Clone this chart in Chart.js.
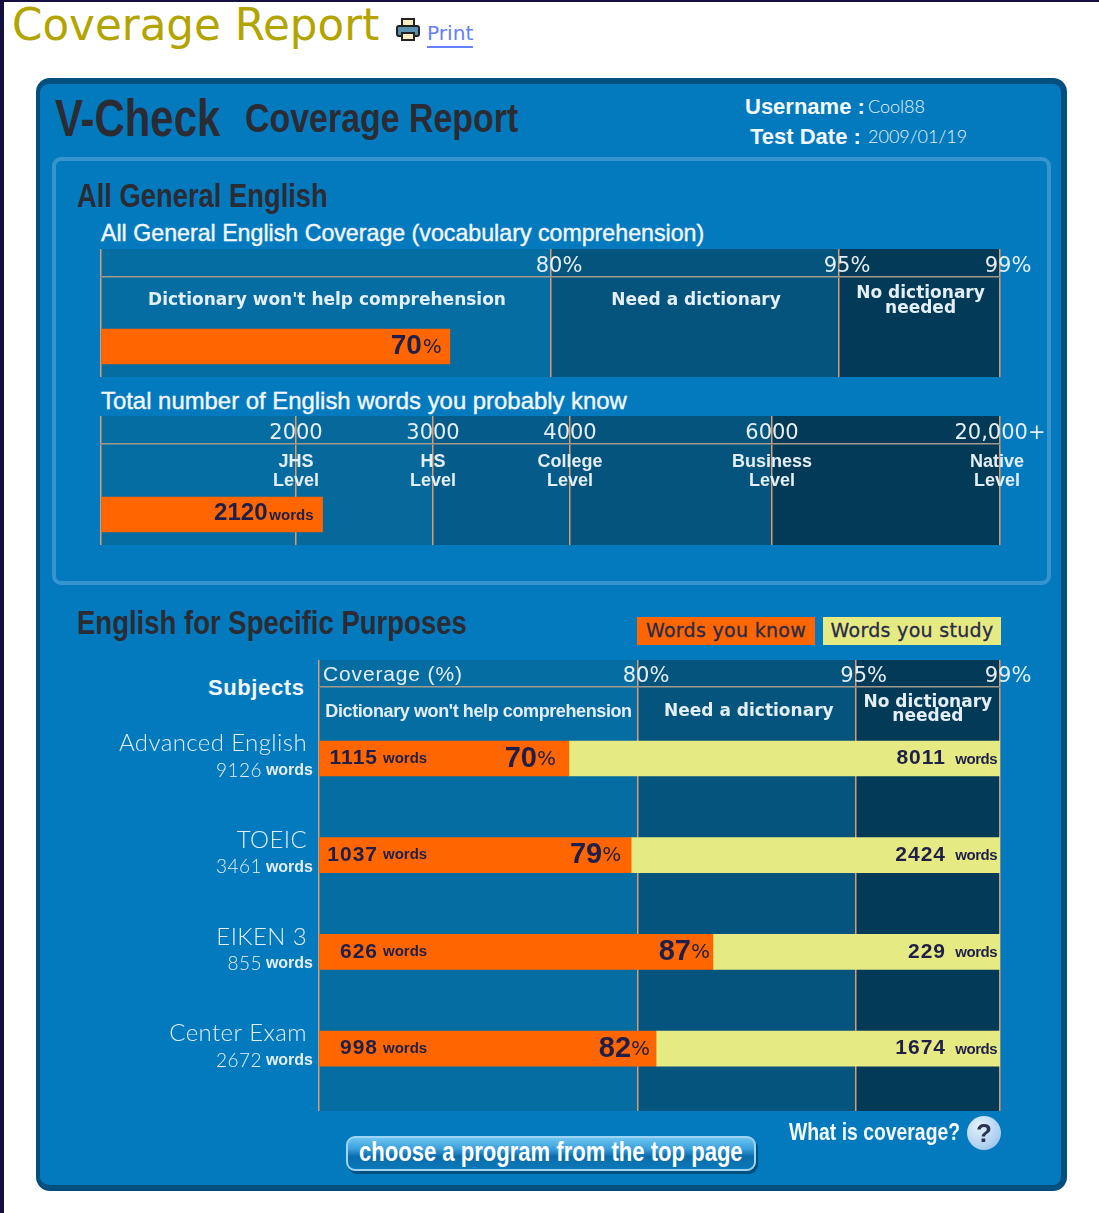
<!DOCTYPE html>
<html>
<head>
<meta charset="utf-8">
<title>Coverage Report</title>
<script src="https://cdn.jsdelivr.net/npm/chart.js@4"></script>
<style>
  html, body { margin: 0; padding: 0; background: #fff; }
  body { position: relative; width: 1099px; height: 1213px; overflow: hidden; font-family: "DejaVu Sans", sans-serif; }
  .abs { position: absolute; white-space: nowrap; }
  .narrow { font-family: "Liberation Sans", sans-serif; font-weight: 700; color: #2b2c33; transform-origin: left center; }
  .white { color: #f2f7fb; font-family: "Liberation Sans", sans-serif; font-weight: 700; }
  .title { font-weight: 400; -webkit-text-stroke: .4px #f2f7fb; }
  .thin { color: #eaf3fa; font-family: "Lato", sans-serif; font-weight: 300; }
  canvas { position: absolute; }
  #panel { position: absolute; left: 36px; top: 78px; width: 1031px; height: 1113px; box-sizing: border-box;
    background: #047abe; border: solid #03507e; border-width: 6px 6px 6px 4px; border-radius: 14px; }
  #inner { position: absolute; left: 52px; top: 157px; width: 999px; height: 428px; box-sizing: border-box;
    border: 4px solid #3695cf; border-radius: 9px; }
  .key { position: absolute; top: 617px; height: 28px; line-height: 27px; width: 178px; text-align: center;
    font-family: "DejaVu Sans", sans-serif; font-size: 19px; letter-spacing: .3px; color: #2a2b4a; -webkit-text-stroke: .3px #2a2b4a; }
  #btn { position: absolute; left: 346px; top: 1136px; width: 410px; height: 35px; box-sizing: border-box;
    border: 2px solid #9fd4f2; border-radius: 9px; background: linear-gradient(#6cc4f0 0%, #3aa0dc 35%, #0a6dab 60%, #0b78b8 100%);
    box-shadow: 2px 3px 0 #03507e; }
  #help { position: absolute; left: 967px; top: 1116px; width: 34px; height: 34px; border-radius: 50%;
    background: radial-gradient(circle at 35% 30%, #e4f1fc, #a9cdf0 70%, #7aa9db); text-align: center; line-height: 34px;
    font-family: "Liberation Sans", sans-serif; font-weight: 700; font-size: 26px; color: #2b3350; }
</style>
</head>
<body>
<div class="abs" style="left:0;top:0;width:4px;height:1213px;background:#15103f"></div>
<div class="abs" style="left:0;top:0;width:1099px;height:2px;background:#15103f"></div>

<div class="abs" style="left:12px;top:0;font-size:43.6px;color:#b3a400">Coverage Report</div>
<svg class="abs" style="left:396px;top:18px" width="24" height="24" viewBox="0 0 24 24">
  <rect x="6" y="1" width="12" height="8" fill="#f7eec4" stroke="#222" stroke-width="2"/>
  <rect x="1" y="8" width="22" height="10" rx="2" fill="#5b8fb0" stroke="#222" stroke-width="2"/>
  <rect x="6" y="15" width="12" height="7" fill="#f7eec4" stroke="#222" stroke-width="2"/>
</svg>
<div class="abs" style="left:427px;top:21px;font-size:20.2px;color:#6680ff;border-bottom:2px solid #6680ff;height:25px">Print</div>

<div id="panel"></div>
<div id="inner"></div>

<div class="abs narrow" data-w="165" style="left:55px;top:89px;font-size:51px">V-Check</div>
<div class="abs narrow" data-w="273" style="left:245px;top:96px;font-size:40px">Coverage Report</div>
<div class="abs white" style="left:745px;top:94px;font-size:22px">Username :</div>
<div class="abs thin" style="left:868px;top:95px;font-size:18px">Cool88</div>
<div class="abs white" style="left:750px;top:124px;font-size:22px">Test Date :</div>
<div class="abs thin" style="left:868px;top:125px;font-size:18px">2009/01/19</div>

<div class="abs narrow" data-w="251" style="left:77px;top:176px;font-size:34px">All General English</div>
<div class="abs white title" style="left:101px;top:220px;font-size:23.2px">All General English Coverage (vocabulary comprehension)</div>
<div class="abs white title" style="left:101px;top:387px;font-size:23.9px">Total number of English words you probably know</div>

<div class="abs narrow" data-w="390" style="left:77px;top:603px;font-size:34px">English for Specific Purposes</div>
<div class="key" style="left:637px;background:#ff6600">Words you know</div>
<div class="key" style="left:823px;background:#e6ea82">Words you study</div>
<div class="abs white" style="left:208px;top:675px;font-size:22px;letter-spacing:.6px">Subjects</div>

<canvas id="general"></canvas>
<canvas id="words"></canvas>
<canvas id="purposes"></canvas>

<div class="abs narrow" data-w="171" style="left:789px;top:1118px;font-size:24px;color:#f4f9fc">What is coverage?</div>
<div id="help">?</div>
<div id="btn"></div>
<div class="abs narrow" data-w="384" style="left:359px;top:1137px;font-size:27px;color:#fff">choose a program from the top page</div>

<script>
// Data
const generalTicks = [0, 80, 95, 99];
const generalTickLabels = ["", "80%", "95%", "99%"];
const generalCoverage = [70];

const wordTicks = [0, 2000, 3000, 4000, 6000, 20000];
const wordTickLabels = ["", "2000", "3000", "4000", "6000", "20,000+"];
const wordLevels = ["", "JHS", "HS", "College", "Business", "Native"];
const wordsKnown = [2120];

const subjects = ["Advanced English", "TOEIC", "EIKEN 3", "Center Exam"];
const subjectTotals = [9126, 3461, 855, 2672];
const subjectKnown = [1115, 1037, 626, 998];
const subjectStudy = [8011, 2424, 229, 1674];
const subjectCoverage = [70, 79, 87, 82];

const zoneNames = [["Dictionary won't help comprehension"], ["Need a dictionary"], ["No dictionary", "needed"]];

// Colours
const ORANGE = "#ff6600";
const YELLOW = "#e6ea82";
const BAND_LOW = "#066da3";
const BAND_MID = "#04547e";
const BAND_DARK = "#033a57";
const LINE = "#d89c70";
const RULE = "#a3998a";
const INK = "#1f1f4a";
const PALE = "#e4eef5";

// Squeeze the condensed headings to the width they have in the report
document.querySelectorAll("[data-w]").forEach(el => {
  el.style.transform = "scaleX(" + (el.dataset.w / el.offsetWidth) + ")";
});

// The report's axes are not linear: each value sits at a set share of the width
class AnchoredScale extends Chart.LinearScale {
  static id = "anchored";
  buildTicks() {
    return this.options.tickValues.map(v => ({ value: v }));
  }
  getPixelForValue(value) {
    const a = this.options.anchors;
    for (let i = 1; i < a.length; i++) {
      if (value <= a[i][0]) {
        const t = (value - a[i - 1][0]) / (a[i][0] - a[i - 1][0]);
        return this.getPixelForDecimal(a[i - 1][1] + t * (a[i][1] - a[i - 1][1]));
      }
    }
    return this.getPixelForDecimal(1);
  }
}
Chart.register(AnchoredScale);

function put(ctx, text, x, y, font, color, align, spacing) {
  ctx.font = font;
  ctx.fillStyle = color;
  ctx.textAlign = align || "center";
  ctx.textBaseline = "middle";
  ctx.letterSpacing = spacing || "0px";
  ctx.fillText(text, x, y);
  ctx.letterSpacing = "0px";
}

// Band fills behind the grid
const bandsPlugin = {
  id: "bands",
  beforeDraw(chart, args, opts) {
    const { ctx } = chart;
    const x = chart.scales.x;
    const top = x.top;
    const bottom = chart.chartArea.bottom;
    ctx.save();
    opts.stops.forEach((from, i) => {
      if (i === opts.stops.length - 1) return;
      const l = x.getPixelForValue(from);
      const r = x.getPixelForValue(opts.stops[i + 1]);
      ctx.fillStyle = opts.colors[i];
      ctx.fillRect(l, top, r - l, bottom - top);
    });
    ctx.restore();
  }
};

// Zone names, levels and the text on the bars
const textPlugin = {
  id: "barText",
  afterDatasetsDraw(chart, args, opts) {
    if (opts.draw) opts.draw(chart, chart.ctx);
  }
};

function axisOptions(ticks, labels, anchors, labelOffset, headerHeight, tickPadding) {
  return {
    type: "anchored",
    position: "top",
    min: ticks[0],
    max: ticks[ticks.length - 1],
    tickValues: ticks,
    anchors,
    afterFit(scale) { scale.height = headerHeight; },
    border: { display: true, color: RULE, width: 1.5 },
    grid: { color: LINE, lineWidth: 1.5, tickColor: LINE, tickLength: headerHeight },
    ticks: {
      autoSkip: false,
      maxRotation: 0,
      minRotation: 0,
      padding: tickPadding,
      labelOffset,
      color: PALE,
      font: { family: "DejaVu Sans", size: 21 },
      callback: (v, i) => labels[i]
    }
  };
}

function baseOptions(xAxis, yMin, yMax, padding, bands, draw) {
  return {
    indexAxis: "y",
    responsive: false,
    animation: false,
    layout: { padding },
    scales: {
      x: xAxis,
      y: { type: "linear", reverse: true, offset: false, min: yMin, max: yMax, display: false, grid: { display: false } }
    },
    plugins: {
      legend: { display: false },
      tooltip: { enabled: false },
      bands,
      barText: { draw }
    }
  };
}

function placeCanvas(id, left, top, width, height) {
  const c = document.getElementById(id);
  c.width = width;
  c.height = height;
  c.style.left = left + "px";
  c.style.top = top + "px";
  c.style.width = width + "px";
  c.style.height = height + "px";
  return c;
}

function drawZones(ctx, x, stops, y, font, lineGap, spacing) {
  zoneNames.forEach((lines, i) => {
    const cx = (x.getPixelForValue(stops[i]) + x.getPixelForValue(stops[i + 1])) / 2 + 1;
    lines.forEach((line, j) => {
      const ly = lines.length > 1 ? y - lineGap / 2 + j * lineGap : y;
      put(ctx, line, cx, ly, font, PALE, "center", spacing);
    });
  });
}

// All General English coverage
new Chart(placeCanvas("general", 60, 240, 990, 145), {
  type: "bar",
  data: {
    datasets: [{
      data: generalCoverage.map((v, i) => ({ x: [0, v], y: i })),
      backgroundColor: ORANGE,
      barThickness: 35,
      grouped: false
    }]
  },
  options: baseOptions(
    axisOptions(generalTicks, generalTickLabels, [[0, 0], [70, 0.388], [80, 0.5006], [95, 0.821], [99, 1]], 8, 28, -30),
    -1, 0.4388,
    { left: 41, right: 50, top: 9, bottom: 8 },
    { stops: [0, 80, 95, 99], colors: [BAND_LOW, BAND_MID, BAND_DARK] },
    (chart, ctx) => {
      const x = chart.scales.x, y = chart.scales.y;
      drawZones(ctx, x, [0, 80, 95, 99], chart.chartArea.top + 24, "bold 17px 'DejaVu Sans'", 15, "0px");
      const end = x.getPixelForValue(generalCoverage[0]);
      const cy = y.getPixelForValue(0);
      put(ctx, "%", end - 8, cy + 1, "20px 'DejaVu Sans'", INK, "right");
      put(ctx, generalCoverage[0], end - 28, cy, "bold 28px 'Liberation Sans'", INK, "right");
    }
  ),
  plugins: [bandsPlugin, textPlugin]
});

// Total number of English words
new Chart(placeCanvas("words", 60, 408, 990, 145), {
  type: "bar",
  data: {
    datasets: [{
      data: wordsKnown.map((v, i) => ({ x: [0, v], y: i })),
      backgroundColor: ORANGE,
      barThickness: 35,
      grouped: false
    }]
  },
  options: baseOptions(
    axisOptions(wordTicks, wordTickLabels, [[0, 0], [2000, 0.2169], [2120, 0.2464], [3000, 0.3693], [4000, 0.5217], [6000, 0.7464], [20000, 1]], 0, 28, -30),
    -1, 0.4326,
    { left: 41, right: 50, top: 8, bottom: 8 },
    { stops: [0, 2000, 3000, 4000, 6000, 20000], colors: [BAND_LOW, "#06689b", "#055c8a", BAND_MID, BAND_DARK] },
    (chart, ctx) => {
      const x = chart.scales.x, y = chart.scales.y;
      wordLevels.forEach((name, i) => {
        if (!name) return;
        const px = x.getPixelForValue(wordTicks[i]) - (i === 5 ? 3 : 0);
        put(ctx, name, px, chart.chartArea.top + 18, "bold 18px 'Liberation Sans'", PALE);
        put(ctx, "Level", px, chart.chartArea.top + 37, "bold 18px 'Liberation Sans'", PALE);
      });
      const end = x.getPixelForValue(wordsKnown[0]);
      const cy = y.getPixelForValue(0);
      put(ctx, "words", end - 9, cy + 1, "bold 15px 'Liberation Sans'", INK, "right");
      put(ctx, wordsKnown[0], end - 55, cy - 1, "bold 24px 'Liberation Sans'", INK, "right");
    }
  ),
  plugins: [bandsPlugin, textPlugin]
});

// English for Specific Purposes
const percentGaps = [13, 10, 3, 6];
new Chart(placeCanvas("purposes", 60, 652, 990, 467), {
  type: "bar",
  data: {
    datasets: [
      {
        label: "Words you know",
        data: subjectCoverage.map((v, i) => ({ x: [0, v], y: i })),
        backgroundColor: ORANGE,
        barThickness: 35,
        grouped: false
      },
      {
        label: "Words you study",
        data: subjectCoverage.map((v, i) => ({ x: [v, 99], y: i })),
        backgroundColor: YELLOW,
        barThickness: 35,
        grouped: false
      }
    ]
  },
  options: baseOptions(
    axisOptions(generalTicks, generalTickLabels, [[0, 0], [70, 0.367], [80, 0.4685], [82, 0.495], [87, 0.5785], [95, 0.788], [99, 1]], 8, 27, -29),
    -0.7397, 3.646,
    { left: 259, right: 50, top: 8, bottom: 8 },
    { stops: [0, 80, 95, 99], colors: [BAND_LOW, BAND_MID, BAND_DARK] },
    (chart, ctx) => {
      const x = chart.scales.x, y = chart.scales.y;
      const left = x.getPixelForValue(0);
      put(ctx, "Coverage (%)", left + 4, x.top + 15, "21px 'Liberation Sans'", PALE, "left", "0.85px");
      put(ctx, zoneNames[0][0], (left + x.getPixelForValue(80)) / 2, chart.chartArea.top + 25, "bold 18px 'Liberation Sans'", PALE, "center", "-0.4px");
      const midX = (x.getPixelForValue(80) + x.getPixelForValue(95)) / 2;
      put(ctx, zoneNames[1][0], midX + 2, chart.chartArea.top + 25, "bold 17px 'DejaVu Sans'", PALE);
      const endX = (x.getPixelForValue(95) + x.getPixelForValue(99)) / 2;
      put(ctx, zoneNames[2][0], endX, chart.chartArea.top + 16, "bold 17px 'DejaVu Sans'", PALE);
      put(ctx, zoneNames[2][1], endX, chart.chartArea.top + 30, "bold 17px 'DejaVu Sans'", PALE);

      subjects.forEach((name, i) => {
        const cy = y.getPixelForValue(i);
        // left hand labels
        put(ctx, name, left - 12, cy - 15, "300 24px 'Lato'", PALE, "right", "0.4px");
        put(ctx, "words", left - 6, cy + 12, "bold 16px 'Liberation Sans'", PALE, "right");
        put(ctx, subjectTotals[i], left - 57, cy + 12, "300 19px 'Lato'", PALE, "right", "0.5px");
        // known words
        put(ctx, subjectKnown[i], left + 59, cy, "bold 21px 'Liberation Sans'", INK, "right", "1px");
        put(ctx, "words", left + 64, cy, "bold 15px 'Liberation Sans'", INK, "left");
        // coverage percent
        const end = x.getPixelForValue(subjectCoverage[i]) - percentGaps[i];
        put(ctx, "%", end, cy + 1, "20px 'DejaVu Sans'", INK, "right");
        put(ctx, subjectCoverage[i], end - 19, cy, "bold 29px 'Liberation Sans'", INK, "right");
        // study words
        const right = x.getPixelForValue(99);
        put(ctx, "words", right - 3, cy + 1, "bold 15px 'Liberation Sans'", INK, "right", "-0.5px");
        put(ctx, subjectStudy[i], right - 54, cy, "bold 21px 'Liberation Sans'", INK, "right", "1px");
      });
    }
  ),
  plugins: [bandsPlugin, textPlugin]
});
</script>
</body>
</html>
